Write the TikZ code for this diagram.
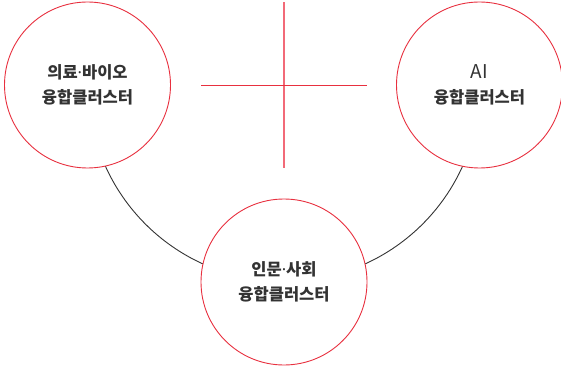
\documentclass[tikz,border=0pt]{standalone}
\usepackage{fontspec}
\newfontfamily\krfont{Noto Sans CJK KR}
\newfontfamily\dotfont{Noto Sans}
\newcommand{\middot}{{\dotfont\bfseries ·}}
\usetikzlibrary{positioning}

\definecolor{clred}{HTML}{E8303F}
\definecolor{clpink}{HTML}{F26A78}
\definecolor{cltext}{HTML}{333333}

\begin{document}
\begin{tikzpicture}[x=1pt,y=1pt,node distance=392pt,on grid,
      cluster/.style={circle,draw=clred,line width=0.9pt,fill=white,
        minimum size=166pt,inner sep=0pt,align=center,text=cltext,
        font=\krfont\bfseries\fontsize{16.5}{24.5}\selectfont},
      link/.style={draw=cltext,line width=0.9pt}]
			\useasboundingbox (0,0) rectangle (561,367);
			\coordinate (hub) at (284,281.5);
			% the cross
			\draw[clpink,line width=1.8pt] ([yshift=83pt]hub) -- ([yshift=-83pt]hub);
			\draw[clred,line width=1.2pt] ([xshift=-83pt]hub) -- ([xshift=83pt]hub);
			% links
			\draw[link] ([shift={(204.3:196pt)}]hub) arc[start angle=204.3,end angle=245.5,radius=196pt];
			\draw[link] ([shift={(335.7:196pt)}]hub) arc[start angle=335.7,end angle=294.5,radius=196pt];
			% clusters
			\node[cluster] (bio) at (87.5,282) {의료\middot 바이오\\융합클러스터};
			\node[cluster] (ai) [right=of bio] {{\mdseries\fontsize{19}{24.5}\selectfont AI}\\융합클러스터};
			\node[cluster] (hum) at (284,85) {인문\middot 사회\\융합클러스터};
		\end{tikzpicture}
\end{document}
